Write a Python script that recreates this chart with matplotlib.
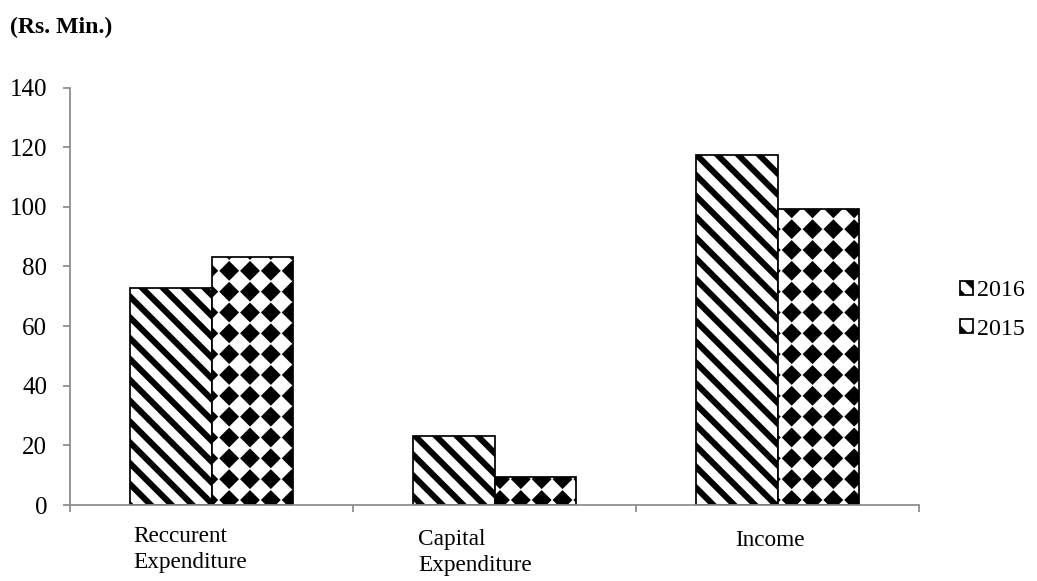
import warnings
import numpy as np
import matplotlib
matplotlib.use("Agg")
import matplotlib.pyplot as plt
from matplotlib import hatch as mhatch
from matplotlib.path import Path

# ---- data -------------------------------------------------------------
categories = ["Reccurent\nExpenditure", "Capital\nExpenditure", "Income"]
series_labels = ["2016", "2015"]
values_2016 = [72.7, 23.2, 117.4]
values_2015 = [83.3, 9.5, 99.2]
y_ticks = [0, 20, 40, 60, 80, 100, 120, 140]
unit_label = "(Rs. Min.)"


# ---- a filled-diamond hatch, selected with the 'd' hatch code ----------
class DiamondGridHatch(mhatch.HatchPatternBase):
    """Solid diamonds on a square lattice."""

    def __init__(self, hatch, density):
        self.num_cells = hatch.count("d") * density
        n = self.num_cells
        self.num_vertices = (n + 1) ** 2 * 5 if n else 0

    def set_vertices_and_codes(self, vertices, codes):
        n = self.num_cells
        step = 1.0 / n
        r = 0.27 * step
        shape = np.array([[0, -r], [r, 0], [0, r], [-r, 0], [0, -r]])
        shape_codes = [Path.MOVETO, Path.LINETO, Path.LINETO,
                       Path.LINETO, Path.CLOSEPOLY]
        centers = np.arange(n + 1) * step
        parts = [shape + [cx, cy] for cy in centers for cx in centers]
        vertices[:] = np.concatenate(parts)
        codes[:] = np.tile(shape_codes, (n + 1) ** 2)


mhatch._hatch_types.append(DiamondGridHatch)
warnings.filterwarnings("ignore", message="hatch must consist")

# ---- style ------------------------------------------------------------
plt.rcParams["font.family"] = ["Liberation Serif", "DejaVu Serif"]
plt.rcParams["hatch.linewidth"] = 3.5
plt.rcParams["hatch.color"] = "black"

DPI = 125
W, H = 1037, 581
fig = plt.figure(figsize=(W / DPI, H / DPI), dpi=DPI)
fig.patch.set_facecolor("white")

ax_left, ax_right, ax_bottom, ax_top = 70, 919, 505, 87.5
ax = fig.add_axes([ax_left / W, 1 - ax_bottom / H,
                   (ax_right - ax_left) / W, (ax_bottom - ax_top) / H])

x = np.arange(len(categories))
bar_w = 0.287
axis_grey = "#8a8a8a"

ax.bar(x - bar_w / 2, values_2016, bar_w, facecolor="white",
       edgecolor="black", linewidth=1.0, hatch="\\\\", label=series_labels[0])
ax.bar(x + bar_w / 2, values_2015, bar_w, facecolor="white",
       edgecolor="black", linewidth=1.0, hatch="d", label=series_labels[1])

ax.set_xlim(-0.5, len(categories) - 0.5)
ax.set_ylim(0, y_ticks[-1])
ax.set_yticks(y_ticks)
ax.set_xticks(np.arange(len(categories) + 1) - 0.5)
ax.set_xticklabels([])

for side in ("top", "right"):
    ax.spines[side].set_visible(False)
for side in ("left", "bottom"):
    ax.spines[side].set_color(axis_grey)
    ax.spines[side].set_linewidth(1.0)

ax.tick_params(axis="both", direction="out", length=4.2,
               width=1.0, color=axis_grey)
ax.tick_params(axis="y", labelsize=14.4, pad=9, labelcolor="black")

# category names sit under the bars, left aligned
label_x = [-0.277, 0.730, 1.85]
label_y = [-0.050, -0.058, -0.060]
for xi, yi, name in zip(label_x, label_y, categories):
    ax.text(xi, yi, name, transform=ax.get_xaxis_transform(),
            ha="left", va="top", fontsize=13.4, linespacing=1.3)

ax.legend(loc="center left", bbox_to_anchor=(960 / W, 1 - 310 / H),
          bbox_transform=fig.transFigure, frameon=False, fontsize=13.8,
          handlelength=0.55, handleheight=0.55, handletextpad=0.15,
          labelspacing=0.72, borderpad=0, borderaxespad=0)

fig.text(10 / W, 1 - 33 / H, unit_label, fontsize=13.7, fontweight="bold",
         ha="left", va="baseline")

fig.savefig("out.png", dpi=DPI, facecolor="white")
